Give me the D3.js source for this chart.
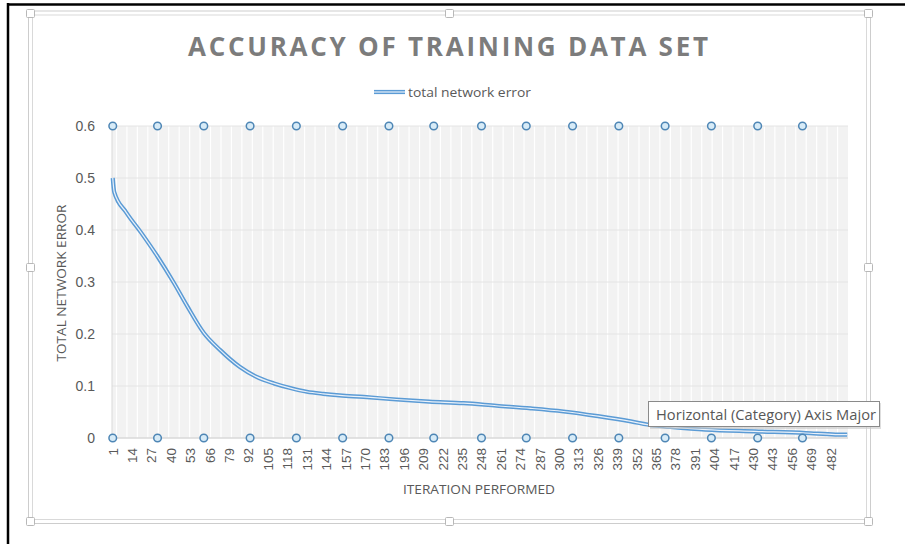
<!DOCTYPE html>
<html>
<head>
<meta charset="utf-8">
<script src="https://cdn.jsdelivr.net/npm/d3@7"></script>
<style>
  body { margin: 0; background: #fff; }
  svg { display: block; font-family: "Open Sans", "Liberation Sans", sans-serif; }
</style>
</head>
<body>
<div id="chart"></div>
<script>
// iterations run 1..493 on the category axis
const iterCount = 493;
const iterations = d3.range(1, iterCount + 1);

const errIters = [1, 2, 10, 20, 31, 42, 51, 62, 73, 86, 97, 109, 120, 131, 142, 153,
  169, 191, 213, 236, 258, 281, 303, 326, 348, 363, 371, 398, 431, 465, 485, 493];
const errValues = [0.500, 0.473, 0.434, 0.395, 0.349, 0.298, 0.253, 0.202, 0.169,
  0.137, 0.118, 0.105, 0.096, 0.089, 0.085, 0.082, 0.079, 0.074, 0.070, 0.067, 0.062, 0.057,
  0.051, 0.042, 0.032, 0.024, 0.022, 0.016, 0.0127, 0.0096, 0.0066, 0.0063];

// the round markers at the top and bottom of the plot
const markerIters = [1, 31, 62, 93, 124, 155, 186, 216, 248, 278, 309, 340, 371, 402, 433, 463];
const markerLevels = [0, 0.6];

const yTicks = [0, 0.1, 0.2, 0.3, 0.4, 0.5, 0.6];

const width = 905;
const height = 544;
const plot = { left: 112, right: 848, top: 126, bottom: 438 };

const svg = d3
	.select("#chart")
	.append("svg")
	.attr("width", width)
	.attr("height", height);

// black screenshot edge
svg.append("line").attr("x1", 7).attr("x2", width).attr("y1", 4.5).attr("y2", 4.5)
	.attr("stroke", "#000").attr("stroke-width", 2.5);
svg.append("line").attr("x1", 8).attr("x2", 8).attr("y1", 3).attr("y2", height)
	.attr("stroke", "#000").attr("stroke-width", 2.5);

// excel selection frame
svg.append("rect").attr("x", 28.5).attr("y", 11).attr("width", 842).attr("height", 512.5)
	.attr("fill", "none").attr("stroke", "#cdcdcd");
svg.append("rect").attr("x", 32.5).attr("y", 15).attr("width", 834).attr("height", 504.5)
	.attr("fill", "none").attr("stroke", "#d9d9d9");
const handles = [[30.5, 13.5], [449.5, 13.5], [868.5, 13.5], [30.5, 267.5], [868.5, 267.5],
  [30.5, 521.5], [449.5, 521.5], [868.5, 521.5]];
svg.append("g").selectAll("rect").data(handles).join("rect")
	.attr("x", (d) => d[0] - 4).attr("y", (d) => d[1] - 4)
	.attr("width", 8).attr("height", 8).attr("rx", 1)
	.attr("fill", "#fff").attr("stroke", "#b8b8b8");

// scales
const x = d3.scaleBand().domain(iterations).range([plot.left, plot.right]).padding(0);
const bw = x.bandwidth();
const xc = (i) => x(i) + bw / 2;
const y = d3.scaleLinear().domain([0, 0.6]).range([plot.bottom, plot.top]);

// plot background
svg.append("rect").attr("x", plot.left).attr("y", plot.top)
	.attr("width", plot.right - plot.left).attr("height", plot.bottom - plot.top)
	.attr("fill", "#f2f2f2");

// vertical (category) gridlines every 7 iterations
const gridIters = iterations.filter((i) => i % 7 === 4);
svg.append("g").selectAll("line").data(gridIters).join("line")
	.attr("x1", (d) => x(d)).attr("x2", (d) => x(d))
	.attr("y1", plot.top).attr("y2", plot.bottom)
	.attr("stroke", "#ffffff").attr("stroke-width", 1.2);

// horizontal gridlines
svg.append("g").selectAll("line").data(yTicks.slice(1)).join("line")
	.attr("x1", plot.left).attr("x2", plot.right)
	.attr("y1", (d) => y(d)).attr("y2", (d) => y(d))
	.attr("stroke", "#e4e4e4");

// axis lines
svg.append("line").attr("x1", plot.left).attr("x2", plot.right)
	.attr("y1", plot.bottom).attr("y2", plot.bottom).attr("stroke", "#d9d9d9").attr("stroke-width", 1.5);
svg.append("line").attr("x1", plot.left).attr("x2", plot.left)
	.attr("y1", plot.top).attr("y2", plot.bottom).attr("stroke", "#d9d9d9");

// y axis labels
const yAxis = svg.append("g")
	.attr("transform", `translate(${plot.left - 14},0)`)
	.call(d3.axisLeft(y).tickValues(yTicks).tickSize(0).tickFormat(d3.format("~g")));
yAxis.select(".domain").remove();
yAxis.selectAll("text").attr("fill", "#595959").style("font-size", "14px");

// x axis labels, rotated
const xAxis = svg.append("g")
	.attr("transform", `translate(0,${plot.bottom})`)
	.call(d3.axisBottom(x).tickValues(iterations.filter((i) => (i - 1) % 13 === 0)).tickSize(0));
xAxis.select(".domain").remove();
xAxis.selectAll("text")
	.attr("fill", "#595959")
	.style("font-size", "13.5px")
	.attr("text-anchor", "end")
	.attr("transform", "rotate(-90)")
	.attr("x", -10)
	.attr("y", 0)
	.attr("dy", "0.36em");

// the error line, drawn as a double (compound) line
const line = d3.line()
	.x((d, k) => xc(errIters[k]))
	.y((d) => y(d))
	.curve(d3.curveMonotoneX);
svg.append("path").datum(errValues).attr("d", line)
	.attr("fill", "none").attr("stroke", "#5b9bd5").attr("stroke-width", 4.2)
	.attr("stroke-linejoin", "round");
svg.append("path").datum(errValues).attr("d", line)
	.attr("fill", "none").attr("stroke", "#e9f1fa").attr("stroke-width", 1.2)
	.attr("stroke-linejoin", "round");

// markers
const markerData = markerLevels.flatMap((lv) => markerIters.map((i) => ({ i, lv })));
svg.append("g").selectAll("circle").data(markerData).join("circle")
	.attr("cx", (d) => xc(d.i)).attr("cy", (d) => y(d.lv)).attr("r", 3.8)
	.attr("fill", "#d7ebf7").attr("stroke", "#4e86b5").attr("stroke-width", 1.5);

// title
svg.append("text")
	.attr("x", 448).attr("y", 56)
	.attr("text-anchor", "middle")
	.attr("fill", "#7c7c7c").style("font-size", "26px").style("font-weight", "bold")
	.attr("textLength", 520).attr("lengthAdjust", "spacing")
	.text("ACCURACY OF TRAINING DATA SET");

// legend
svg.append("line").attr("x1", 374).attr("x2", 405).attr("y1", 92).attr("y2", 92)
	.attr("stroke", "#5b9bd5").attr("stroke-width", 4.2);
svg.append("line").attr("x1", 374).attr("x2", 405).attr("y1", 92).attr("y2", 92)
	.attr("stroke", "#e9f1fa").attr("stroke-width", 1.2);
svg.append("text").attr("x", 408).attr("y", 96.5).attr("fill", "#595959")
	.style("font-size", "13px").attr("textLength", 123).attr("lengthAdjust", "spacingAndGlyphs")
	.text("total network error");

// axis titles
svg.append("text").attr("x", 479).attr("y", 494).attr("text-anchor", "middle")
	.attr("fill", "#595959").style("font-size", "13px")
	.attr("textLength", 152).attr("lengthAdjust", "spacingAndGlyphs")
	.text("ITERATION PERFORMED");
svg.append("text").attr("transform", "translate(66,283) rotate(-90)").attr("text-anchor", "middle")
	.attr("fill", "#595959").style("font-size", "13px")
	.attr("textLength", 157).attr("lengthAdjust", "spacingAndGlyphs")
	.text("TOTAL NETWORK ERROR");

// hover tooltip left in the screenshot
const tip = svg.append("g");
tip.append("rect").attr("x", 650).attr("y", 403).attr("width", 231).attr("height", 26)
	.attr("fill", "#c8c8c8").attr("opacity", 0.6);
tip.append("rect").attr("x", 648.5).attr("y", 401.5).attr("width", 231).attr("height", 25)
	.attr("fill", "#fff").attr("stroke", "#8a8a8a");
tip.append("text").attr("x", 656).attr("y", 419.5).attr("fill", "#575757")
	.style("font-size", "14px").attr("textLength", 220).attr("lengthAdjust", "spacingAndGlyphs")
	.text("Horizontal (Category) Axis Major");
</script>
</body>
</html>
